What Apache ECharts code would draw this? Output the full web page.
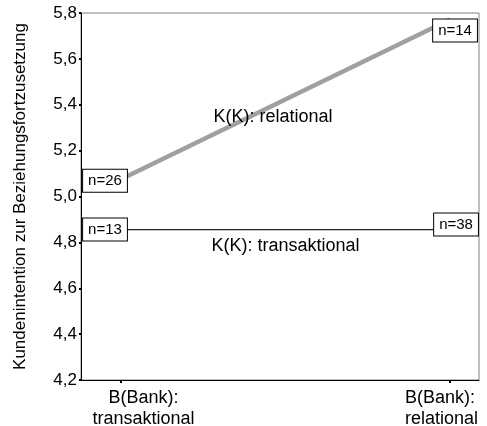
<!DOCTYPE html>
<html>
<head>
<meta charset="utf-8">
<script src="https://cdn.jsdelivr.net/npm/echarts@6/dist/echarts.min.js"></script>
<style>html,body{margin:0;padding:0;background:#fff}#c{width:487px;height:426px}</style>
</head>
<body>
<div id="c"></div>
<script>
// Data
var categories = ['B(Bank):\ntransaktional', 'B(Bank):\nrelational'];
var relationalValues = [5.075, 5.772];
var transaktionalValues = [4.856, 4.856];
var relationalN = ['n=26', 'n=14'];
var transaktionalN = ['n=13', 'n=38'];
var seriesNames = ['K(K): relational', 'K(K): transaktional'];
var yTicks = [4.2, 4.4, 4.6, 4.8, 5.0, 5.2, 5.4, 5.6, 5.8];
var yTitle = 'Kundenintention zur Beziehungsfortzusetzung';

var FONT = '"Liberation Sans", Arial, sans-serif';
var boxLabel = {
  show: true, position: 'inside', color: '#000', fontFamily: FONT, fontSize: 15,
  backgroundColor: '#fff', borderColor: '#000', borderWidth: 1, padding: [4, 5, 3, 5]
};
var labelOffsets = [[[-16, 1.5], [5, 11]], [[-16, 0], [6, -5]]];

function mkData(vals, ns, offs) {
  return vals.map(function (v, i) {
    return {
      value: [i, v],
      label: Object.assign({}, boxLabel, { formatter: ns[i], offset: offs[i] })
    };
  });
}

var chart = echarts.init(document.getElementById('c'), null, { renderer: 'canvas' });
chart.setOption({
  animation: false,
  grid: {
    left: 81, right: 8, top: 13, bottom: 46, show: true, borderColor: '#808080', borderWidth: 1,
    containLabel: false, outerBoundsMode: 'none'
  },
  xAxis: {
    type: 'value', min: -0.1216, max: 1.088,
    axisLine: { show: true, onZero: false, lineStyle: { color: '#000', width: 1 } },
    splitLine: { show: false },
    axisTick: { show: true, customValues: [0, 1], length: 3, lineStyle: { color: '#000', width: 2 } },
    axisLabel: {
      customValues: [0, 1], margin: 8, color: '#000', fontFamily: FONT, fontSize: 18, lineHeight: 21,
      align: 'center', hideOverlap: false,
      formatter: function (v) {
        var idx = Math.round(v);
        var lines = categories[idx].split('\n');
        if (idx === 0) {
          return lines.map(function (l) { return '{sp|}{a|' + l + '}'; }).join('\n');
        }
        return lines.map(function (l) { return '{b|' + l + '}'; }).join('\n');
      },
      rich: {
        sp: { width: 45 },
        a: { width: 105, align: 'left', fontSize: 18, fontFamily: FONT, color: '#000', lineHeight: 21 },
        b: { width: 90, align: 'left', fontSize: 18, fontFamily: FONT, color: '#000', lineHeight: 21 }
      }
    }
  },
  yAxis: {
    type: 'value', min: yTicks[0], max: yTicks[yTicks.length - 1], interval: 0.2,
    name: yTitle, nameLocation: 'middle', nameGap: 52, nameRotate: 90,
    nameTextStyle: { color: '#000', fontFamily: FONT, fontSize: 17 },
    axisLine: { show: true, onZero: false, lineStyle: { color: '#000', width: 1 } },
    splitLine: { show: false },
    axisTick: { show: true, length: 2, lineStyle: { color: '#000', width: 2 } },
    axisLabel: {
      margin: 4, color: '#000', fontFamily: FONT, fontSize: 17,
      formatter: function (v) { return v.toFixed(1).replace('.', ','); }
    }
  },
  series: [
    {
      name: seriesNames[0], type: 'line', data: mkData(relationalValues, relationalN, labelOffsets[0]),
      symbol: 'circle', symbolSize: 1, itemStyle: { color: 'rgba(0,0,0,0)' },
      lineStyle: { color: '#a0a0a0', width: 4.5 }, z: 2,
      markPoint: {
        symbol: 'circle', symbolSize: 0,
        data: [{ coord: [0.462, 5.345], value: seriesNames[0] }],
        label: { show: true, position: 'inside', formatter: seriesNames[0], color: '#000', fontFamily: FONT, fontSize: 18 }
      }
    },
    {
      name: seriesNames[1], type: 'line', data: mkData(transaktionalValues, transaktionalN, labelOffsets[1]),
      symbol: 'circle', symbolSize: 1, itemStyle: { color: 'rgba(0,0,0,0)' },
      lineStyle: { color: '#222', width: 1.2 }, z: 2,
      markPoint: {
        symbol: 'circle', symbolSize: 0,
        data: [{ coord: [0.5, 4.782], value: seriesNames[1] }],
        label: { show: true, position: 'inside', formatter: seriesNames[1], color: '#000', fontFamily: FONT, fontSize: 18 }
      }
    }
  ]
});
</script>
</body>
</html>
